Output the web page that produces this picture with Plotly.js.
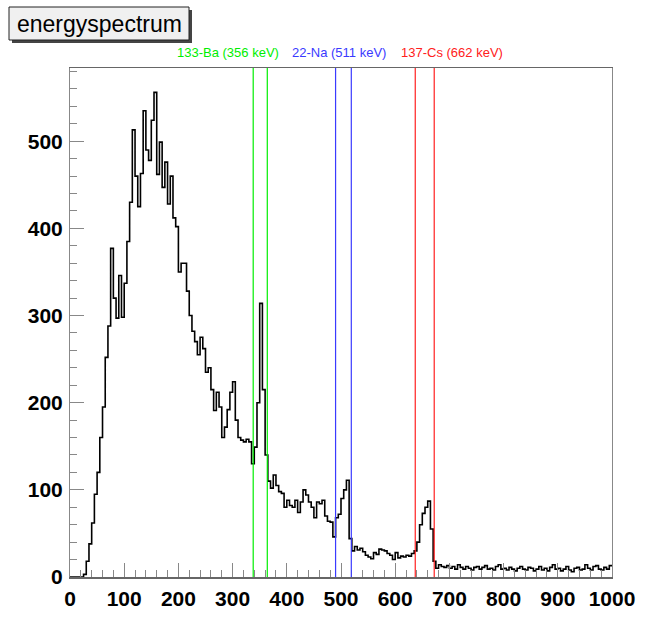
<!DOCTYPE html>
<html><head><meta charset="utf-8">
<script src="https://cdn.plot.ly/plotly-3.0.1.min.js"></script>
<style>html,body{margin:0;padding:0;background:#fff;} #chart{width:645px;height:617px;}</style>
</head><body><div id="chart"></div>
<script>
// ---- data ----
const binStart = 0;
const binWidth = 5;
const counts = [
  0, 0, 0, 0, 0, 3, 18, 38, 62, 95,
  120, 160, 195, 252, 288, 377, 320, 297, 346, 298,
  337, 385, 430, 513, 460, 425, 463, 535, 490, 478,
  524, 556, 462, 499, 447, 476, 428, 460, 412, 402,
  350, 360, 360, 328, 300, 282, 270, 255, 275, 262,
  235, 240, 215, 191, 212, 195, 160, 172, 192, 212,
  224, 180, 160, 157, 155, 158, 155, 130, 149, 200,
  314, 215, 140, 110, 102, 117, 105, 98, 96, 80,
  88, 82, 80, 88, 74, 86, 100, 94, 86, 80,
  68, 86, 84, 88, 70, 64, 63, 46, 68, 72,
  90, 100, 111, 44, 30, 35, 31, 33, 29, 25,
  23, 21, 28, 26, 32, 31, 30, 27, 25, 20,
  28, 22, 24, 23, 25, 24, 27, 30, 40, 60,
  73, 80, 87, 55, 18, 10, 14, 12, 11, 13,
  10, 12, 9, 14, 11, 9, 12, 10, 8, 11,
  12, 9, 11, 13, 9, 10, 8, 12, 14, 9,
  10, 8, 11, 9, 7, 10, 12, 9, 8, 11,
  10, 7, 9, 12, 8, 10, 7, 11, 14, 9,
  10, 7, 9, 12, 8, 6, 10, 11, 8, 9,
  14, 10, 8, 12, 13, 9, 8, 11, 9, 13
];
const sourceLabels = ["133-Ba (356 keV)", "22-Na (511 keV)", "137-Cs (662 keV)"];
const windowLow = [338, 490, 637];
const windowHigh = [364, 519, 672];
const histTitle = "energyspectrum";
const xTicks = [0, 100, 200, 300, 400, 500, 600, 700, 800, 900, 1000];
const yTicks = [0, 100, 200, 300, 400, 500];

// ---- styles / layout ----
const colors = ["#00ee00", "#3a3aff", "#ff2020"];
const labelCenters = [292, 497, 704];
const W = 645, H = 617, L = 70, R = 33, T = 68, B = 40;
const pw = W - L - R, ph = H - T - B;
const px2x = p => (p - L) / pw;
const py2y = p => (H - B - p) / ph;

const xs = [], ys = [];
for (let i = 0; i < counts.length; i++) { xs.push(binStart + i * binWidth); ys.push(counts[i]); }
xs.push(binStart + counts.length * binWidth); ys.push(counts[counts.length - 1]);

const trace = {
  x: xs, y: ys, type: 'scatter', mode: 'lines',
  line: {shape: 'hv', color: '#000', width: 1.6},
  hoverinfo: 'skip', showlegend: false
};

const shapes = [];
const annotations = [];
// title pave: shadow + box
shapes.push({type: 'rect', xref: 'paper', yref: 'paper', x0: px2x(12), x1: px2x(192), y0: py2y(43), y1: py2y(10), fillcolor: '#444', line: {width: 0}, layer: 'above'});
shapes.push({type: 'rect', xref: 'paper', yref: 'paper', x0: px2x(9), x1: px2x(189), y0: py2y(40), y1: py2y(7), fillcolor: '#f0f0f0', line: {color: '#222', width: 1}, layer: 'above'});
annotations.push({xref: 'paper', yref: 'paper', x: px2x(99), y: py2y(24), text: histTitle, showarrow: false, xanchor: 'center', yanchor: 'middle', font: {family: 'Liberation Sans, Arial, sans-serif', size: 23, color: '#000'}});

for (let k = 0; k < sourceLabels.length; k++) {
  [windowLow[k], windowHigh[k]].forEach(e => {
    shapes.push({type: 'line', xref: 'x', yref: 'paper', x0: e, x1: e, y0: 0, y1: 1, line: {color: colors[k], width: 1.2}});
  });
  annotations.push({xref: 'x', yref: 'paper', x: labelCenters[k], y: py2y(53), text: sourceLabels[k], showarrow: false, xanchor: 'center', yanchor: 'middle', font: {family: 'Liberation Sans Narrow, Arial Narrow, sans-serif', size: 13, color: colors[k]}});
}

const tickFont = {family: 'Liberation Sans, Arial, sans-serif', size: 21, color: '#000', weight: 'bold'};
const layout = {
  width: W, height: H,
  margin: {l: L, r: R, t: T, b: B, pad: 0},
  paper_bgcolor: '#fff', plot_bgcolor: '#fff',
  showlegend: false,
  xaxis: {
    range: [0, 1000], tickvals: xTicks, ticktext: xTicks.map(String),
    ticks: 'inside', ticklen: 14, tickcolor: '#888', tickwidth: 1,
    minor: {dtick: 20, ticks: 'inside', ticklen: 7, tickcolor: '#888', tickwidth: 1},
    showgrid: false, zeroline: false,
    showline: true, linecolor: '#666', linewidth: 1.5, mirror: true,
    tickfont: tickFont, ticklabelstandoff: 2
  },
  yaxis: {
    range: [0, 584], tickvals: yTicks, ticktext: yTicks.map(String),
    ticks: 'inside', ticklen: 14, tickcolor: '#888', tickwidth: 1,
    minor: {dtick: 20, ticks: 'inside', ticklen: 7, tickcolor: '#888', tickwidth: 1},
    showgrid: false, zeroline: false,
    showline: true, linecolor: '#888', linewidth: 1, mirror: true,
    tickfont: tickFont, ticklabelstandoff: 2
  },
  shapes: shapes, annotations: annotations
};
Plotly.newPlot('chart', [trace], layout, {staticPlot: true, displayModeBar: false});
</script></body></html>
